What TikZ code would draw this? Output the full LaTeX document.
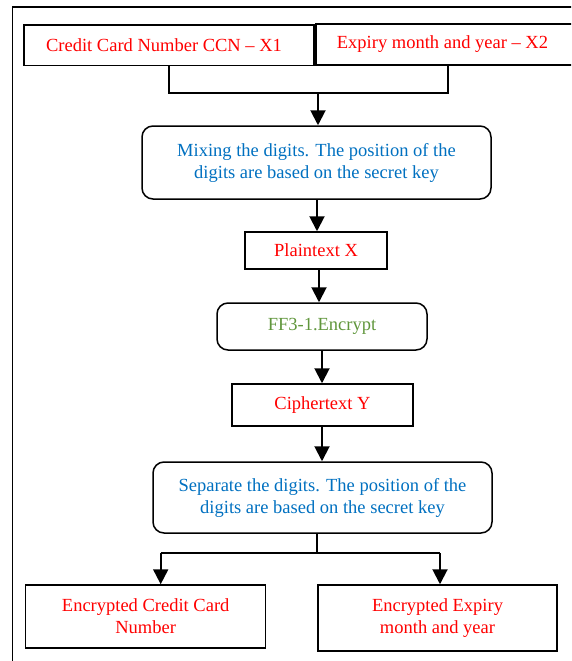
\documentclass[tikz,border=0pt]{standalone}
\usepackage{fontspec}
\setmainfont{Liberation Serif}
\usetikzlibrary{arrows.meta}
\definecolor{txtred}{RGB}{255,0,0}
\definecolor{txtblue}{RGB}{0,112,192}
\definecolor{txtgreen}{RGB}{96,150,60}
\begin{document}
\begin{tikzpicture}[x=1pt,y=-1pt,
  every node/.style={font=\fontsize{18.5}{22}\selectfont},
  sqbox/.style={draw=black, line width=1.5pt, rectangle, inner sep=0pt, align=center},
  rdbox/.style={sqbox, rounded corners=11pt},
  lin/.style={draw=black, line width=1.6pt},
  arr/.style={draw=black, line width=2pt, -{Triangle[width=15pt,length=15pt]}},
  frame/.style={draw=black, line width=1.3pt}]
\useasboundingbox (0,0) rectangle (571,661);
\clip (0,0) rectangle (571,661);
\draw[frame] (12.7,7) rectangle (620,720);
% top boxes
\node[sqbox, minimum width=290, minimum height=40.7, text=txtred] (x1) at (169,45.3) {Credit Card Number CCN -- X1\hspace*{10pt}};
\node[sqbox, minimum width=264, minimum height=41, text=txtred] (x2) at (448,44.5) {Expiry month and year -- X2\hspace*{11pt}};
% process boxes
\node[rdbox, minimum width=349, minimum height=73, text=txtblue] (mix) at (316.5,162.5) {Mixing the digits. The position of the\\digits are based on the secret key};
\node[sqbox, minimum width=142, minimum height=37, text=txtred] (plain) at (316,250.5) {Plaintext X};
\node[rdbox, minimum width=210, minimum height=47, text=txtgreen] (ff3) at (322,326.5) {FF3-1.Encrypt};
\node[sqbox, minimum width=181, minimum height=42, text=txtred] (ciph) at (322.5,405) {Ciphertext Y};
\node[rdbox, minimum width=339, minimum height=71, text=txtblue] (sep) at (322.5,497.5) {Separate the digits. The position of the\\digits are based on the secret key};
\node[sqbox, minimum width=240, minimum height=63, text=txtred] (encL) at (145.7,616.5) {Encrypted Credit Card\\Number};
\node[sqbox, minimum width=239, minimum height=66, text=txtred] (encR) at (437.5,618) {Encrypted Expiry\\month and year};
% top merge connector
\coordinate (jt) at (318,93);
\draw[lin] (x1.south) |- (jt) -| (x2.south);
\draw[arr] (jt) -- (jt |- mix.north);
% chain
\draw[arr] ([xshift=0.5]mix.south) -- ([xshift=0.5]mix.south |- plain.north);
\draw[arr] ([xshift=3]plain.south) -- ([xshift=3]plain.south |- ff3.north);
\draw[arr] (ff3.south) -- (ciph.north -| ff3.south);
\draw[arr] (ciph.south -| ff3.south) -- (sep.north -| ff3.south);
% split connector
\coordinate (sb) at (317,553);
\coordinate (aL) at (160.7,553);
\coordinate (aR) at (440,553);
\draw[lin] (sep.south -| sb) -- (sb);
\draw[lin] (aL) -- (aR);
\draw[arr] (aL) -- (aL |- encL.north);
\draw[arr] (aR) -- (aR |- encR.north);
\end{tikzpicture}
\end{document}
